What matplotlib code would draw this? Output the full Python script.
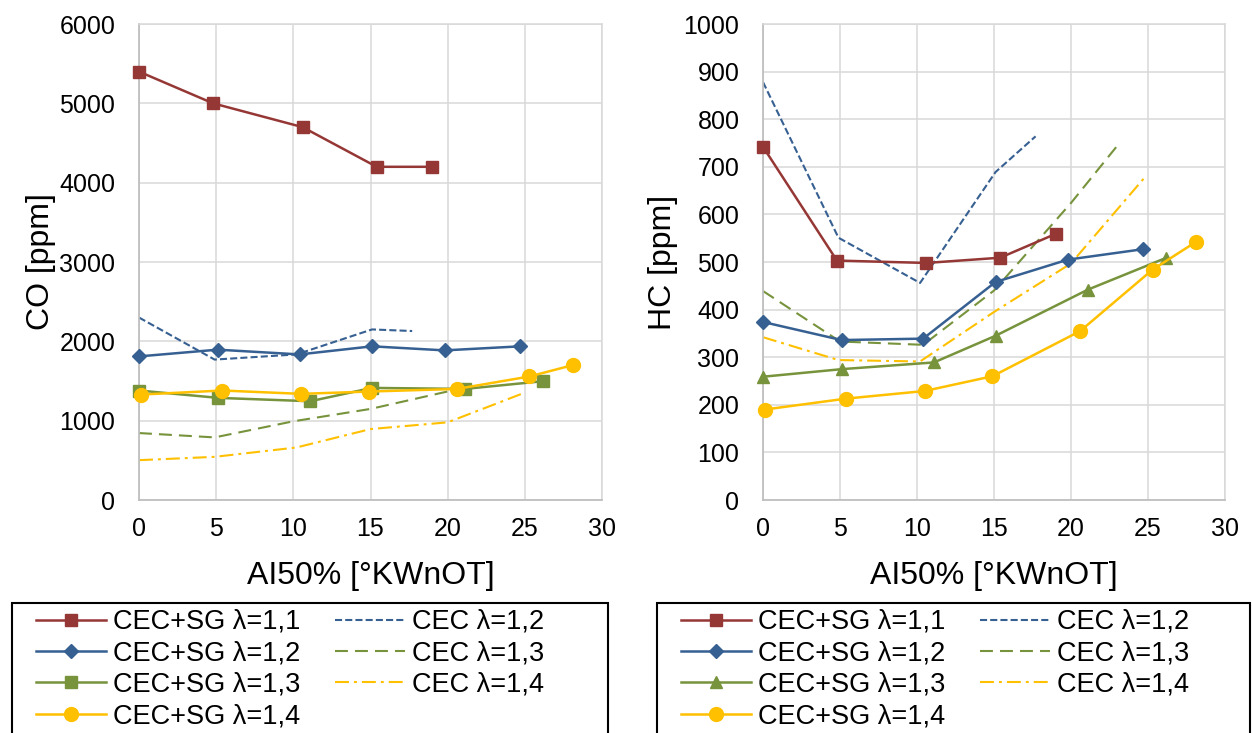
import matplotlib
matplotlib.use("Agg")
import matplotlib.pyplot as plt
from matplotlib.patches import Rectangle

plt.rcParams['font.family'] = ['Liberation Sans', 'DejaVu Sans']

# AI50% positions [°KWnOT]
x_sg11 = [0, 4.8, 10.6, 15.4, 19.0]
x_sg12 = [0, 5.1, 10.4, 15.1, 19.8, 24.7]
x_sg13 = [0, 5.15, 11.1, 15.1, 21.1, 26.2]
x_sg14 = [0.1, 5.4, 10.5, 14.9, 20.6, 25.3, 28.1]
x_cec12 = [0, 4.9, 10.2, 15.1, 17.7]
x_cec13_co = [0, 4.9, 10.0, 15.0, 20.5]
x_cec13_hc = [0, 5.0, 10.4, 15.0, 20.0, 23.0]
x_cec14 = [0, 4.9, 10.2, 15.0, 20.0, 24.9]

# CO [ppm]
co_sg11 = [5400, 5000, 4700, 4200, 4200]
co_sg12 = [1810, 1895, 1835, 1937, 1886, 1937]
co_sg13 = [1380, 1287, 1245, 1413, 1400, 1498]
co_sg14 = [1329, 1380, 1338, 1367, 1400, 1557, 1700]
co_cec12 = [2300, 1770, 1835, 2150, 2130]
co_cec13 = [844, 789, 992, 1148, 1390]
co_cec14 = [502, 544, 662, 894, 979, 1346]

# HC [ppm]
hc_sg11 = [742, 503, 498, 509, 559]
hc_sg12 = [374, 336, 339, 458, 505, 527]
hc_sg13 = [259, 275, 289, 345, 442, 509]
hc_sg14 = [190, 213, 229, 260, 355, 484, 542]
hc_cec12 = [878, 551, 456, 689, 764]
hc_cec13 = [439, 333, 326, 440, 624, 744]
hc_cec14 = [342, 294, 291, 395, 497, 682]

RED = '#953735'
BLUE = '#376092'
GREEN = '#77933C'
YELLOW = '#FFC000'

W, H = 1252, 733
fig = plt.figure(figsize=(W / 100, H / 100), dpi=100)


def draw(ax, ys, x13, sg13_marker, ylim, ystep, ylabel, label_x):
    sg11, sg12, sg13, sg14, cec12, cec13, cec14 = ys
    solid = dict(lw=1.8, clip_on=False, zorder=3)
    ax.plot(x_sg11, sg11, color=RED, marker='s', ms=9, label='CEC+SG λ=1,1', **solid)
    ax.plot(x_sg12, sg12, color=BLUE, marker='D', ms=7, label='CEC+SG λ=1,2', **solid)
    ax.plot(x_sg13, sg13, color=GREEN, marker=sg13_marker, ms=9, label='CEC+SG λ=1,3', **solid)
    ax.plot(x_sg14, sg14, color=YELLOW, marker='o', ms=10, label='CEC+SG λ=1,4', **solid)
    ax.plot(x_cec12, cec12, color=BLUE, lw=1.5, dashes=(3.4, 1.5), label='CEC λ=1,2', zorder=2)
    ax.plot(x13, cec13, color=GREEN, lw=1.5, dashes=(6.2, 3.4), label='CEC λ=1,3', zorder=2)
    ax.plot(x_cec14, cec14, color=YELLOW, lw=1.5, dashes=(6.7, 2.4, 1.4, 2.4),
            label='CEC λ=1,4', zorder=2)

    ax.set_xlim(0, 30)
    ax.set_ylim(0, ylim)
    ax.set_xticks(range(0, 31, 5))
    ax.set_yticks(range(0, ylim + 1, ystep))
    ax.grid(True, color='#D9D9D9', lw=1.1, zorder=0)
    ax.set_axisbelow(True)
    ax.tick_params(length=0, labelsize=18)
    ax.tick_params(axis='y', pad=17)
    ax.tick_params(axis='x', pad=12)
    for side in ['top', 'right']:
        ax.spines[side].set_color('#D9D9D9')
        ax.spines[side].set_linewidth(1.1)
    for side in ['left', 'bottom']:
        ax.spines[side].set_color('#BFBFBF')
        ax.spines[side].set_linewidth(1.3)
    ax.set_xlabel('AI50% [°KWnOT]', fontsize=23)
    ax.set_ylabel(ylabel, fontsize=23)
    ax.xaxis.set_label_coords(0.5, -0.128)
    ax.yaxis.set_label_coords(label_x, 0.5)


ax1 = fig.add_axes([139 / W, 1 - 500 / H, 463 / W, 476 / H])
draw(ax1, [co_sg11, co_sg12, co_sg13, co_sg14, co_cec12, co_cec13, co_cec14],
     x_cec13_co, 's', 6000, 1000, 'CO [ppm]', -0.18)

ax2 = fig.add_axes([763 / W, 1 - 500 / H, 462 / W, 476 / H])
draw(ax2, [hc_sg11, hc_sg12, hc_sg13, hc_sg14, hc_cec12, hc_cec13, hc_cec14],
     x_cec13_hc, '^', 1000, 100, 'HC [ppm]', -0.185)

# legend boxes under each chart
for ax, (bx0, bx1) in [(ax1, (12, 608)), (ax2, (657, 1250))]:
    fig.patches.append(Rectangle((bx0 / W, -0.05), (bx1 - bx0) / W, 1 - 603 / H + 0.05,
                                 transform=fig.transFigure, fill=False,
                                 edgecolor='black', lw=1.5))
    handles, labels = ax.get_legend_handles_labels()
    fig.legend(handles, labels, ncol=2, frameon=False, loc='upper left',
               bbox_to_anchor=((bx0 + 24) / W, 1 - 609 / H),
               borderpad=0, borderaxespad=0, fontsize=19.5, handlelength=2.6,
               handletextpad=0.26, columnspacing=1.25, labelspacing=0.2)

fig.savefig('out.png', dpi=100)
